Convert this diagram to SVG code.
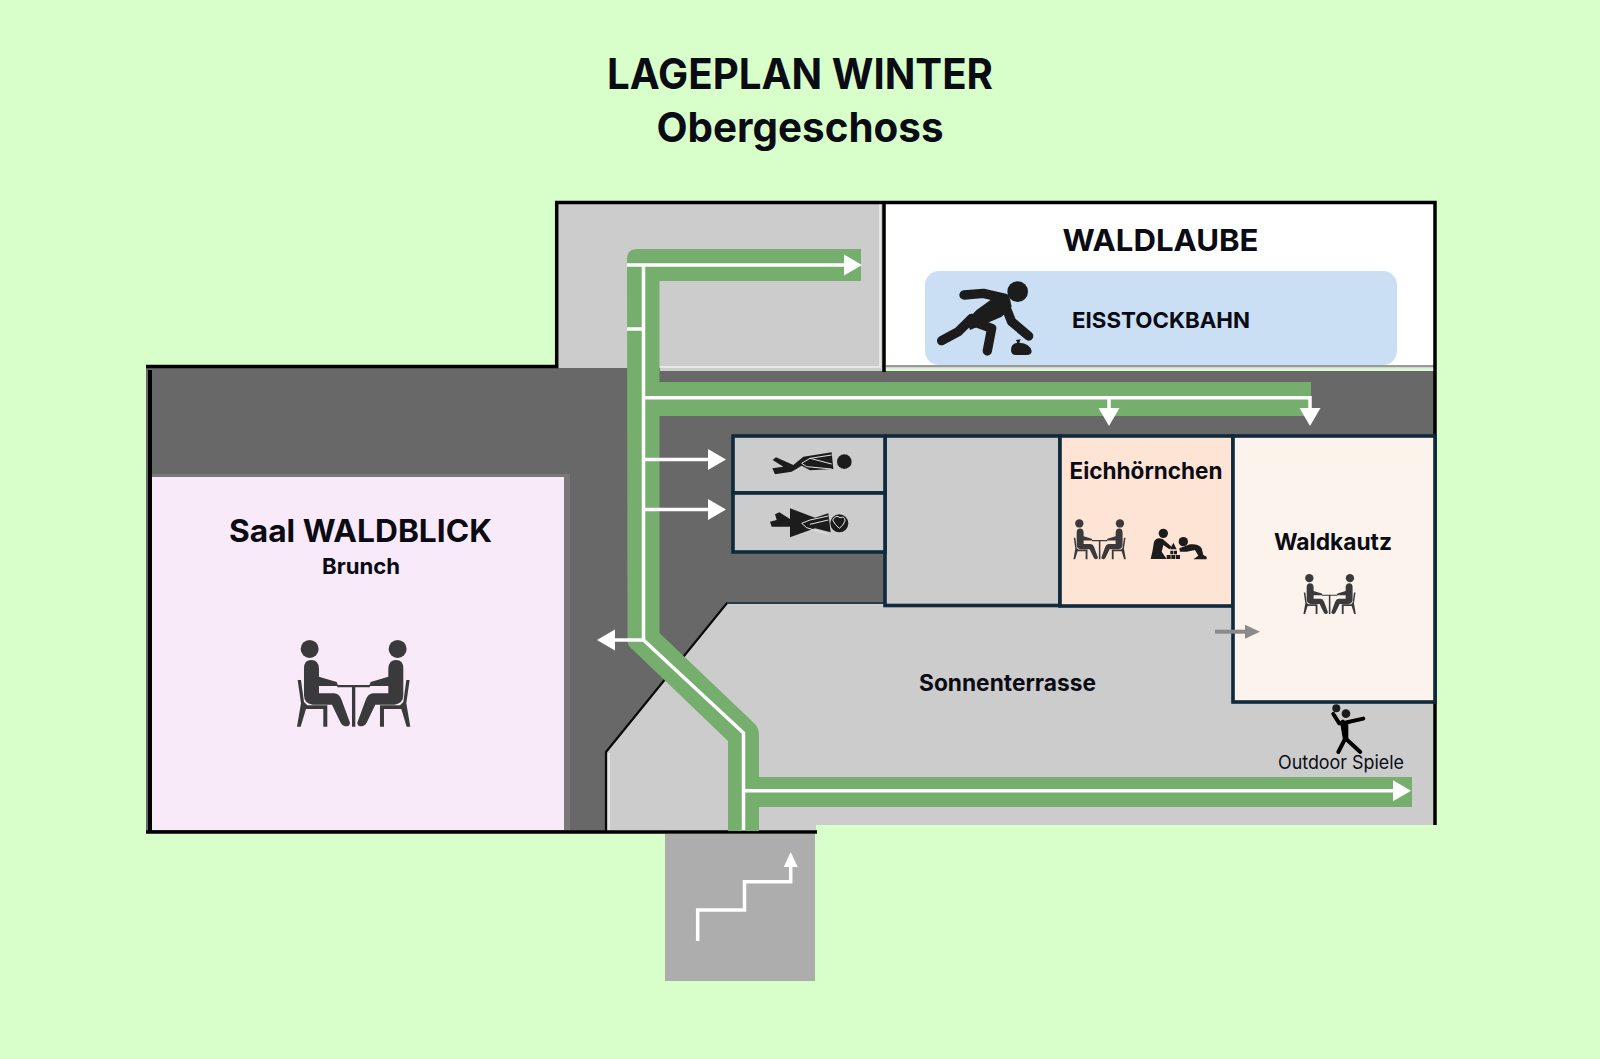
<svg xmlns="http://www.w3.org/2000/svg" width="1600" height="1059" viewBox="0 0 1600 1059">
<style>
text{font-family:Inter,"Liberation Sans",sans-serif;font-weight:700;fill:#0b0b14;text-anchor:middle}
.wall{stroke:#000;stroke-width:3.5;fill:none}
.navy{fill:#ccc;stroke:#0e2a3c;stroke-width:3.6}
.wl{stroke:#fff;stroke-width:3.5;fill:none}
.ic{fill:#3a3a3c}
.dk{fill:#1c1c1c}
.ln{fill:none;stroke:#e4e4e4;stroke-width:3.5}
</style>
<defs>
<marker id="ah" markerUnits="userSpaceOnUse" markerWidth="19" markerHeight="22" refX="1" refY="11" orient="auto"><path d="M0 0.5L18 11L0 21.5Z" fill="#fff"/></marker>
<marker id="ahs" markerUnits="userSpaceOnUse" markerWidth="16" markerHeight="16" refX="1" refY="8" orient="auto"><path d="M0 1L15 8L0 15Z" fill="#fff"/></marker>
<marker id="ahg" markerUnits="userSpaceOnUse" markerWidth="16" markerHeight="16" refX="1" refY="8" orient="auto"><path d="M0 1L15 8L0 15Z" fill="#8a8a8a"/></marker>
<g id="sitter">
<circle cx="539" cy="867" r="27"/>
<path d="M522 925Q522 900 544 900Q565 900 567 925L567 950L620 966L625 978L567 978L567 1000L612 1000Q628 1001 635 1020L660 1088Q660 1100 645 1099Q637 1098 632 1088L606 1034L548 1034Q522 1030 522 1005Z"/>
<path d="M503 960H513L522 1026L532 1036H592V1100H580V1047H528L512 1100H501L513 1030Z"/>
</g>
<g id="tablepair">
<use href="#sitter"/>
<use href="#sitter" transform="translate(1342 0) scale(-1 1)"/>
<path d="M622 975H720V982H676V1100H666V982H622Z"/>
</g>
</defs>
<rect width="1600" height="1059" fill="#d8ffc9"/>
<g id="title">
<text x="800" y="89" font-size="42" textLength="386" lengthAdjust="spacingAndGlyphs">LAGEPLAN WINTER</text>
<text x="800" y="142" font-size="41" textLength="287" lengthAdjust="spacingAndGlyphs">Obergeschoss</text>
</g>
<g id="floor">
<rect x="558" y="204" width="326" height="168" fill="#ccc"/>
<path d="M146 368H660V371H1434V445H885V552H885V603H727L606 752V832H146Z" fill="#686868"/>
<path d="M606 752L727 603H885V606H1233V702H1434V825H816V832H606Z" fill="#ccc"/>
<path d="M606 832V752L727 603H760" fill="none" stroke="#0a0a0a" stroke-width="2.2"/>
<path d="M727 603H885" fill="none" stroke="#2a3a44" stroke-width="2"/>
<path d="M609 830V753" stroke="#eee" stroke-width="1.5" fill="none"/>
<path d="M660 367H880V204" stroke="#eee" stroke-width="1.6" fill="none"/>
<rect x="564" y="474" width="6" height="358" fill="#787878"/>
<rect x="150" y="474" width="420" height="3" fill="#787878"/>
</g>
<g id="waldlaube">
<rect x="886" y="204" width="548" height="161" fill="#fff"/>
<rect x="886" y="365" width="548" height="2.5" fill="#999"/>
<rect x="886" y="367.500" width="548" height="1.500" fill="#e4e4e4"/>
<text x="1160.500" y="251" font-size="30.500" textLength="196" lengthAdjust="spacingAndGlyphs">WALDLAUBE</text>
</g>
<g id="eisstockbahn">
<rect x="925" y="271" width="472" height="94" rx="14" fill="#cbdff4"/>
<text x="1161" y="328" font-size="22" textLength="178" lengthAdjust="spacingAndGlyphs">EISSTOCKBAHN</text>
<g transform="translate(930 275) scale(.3333)">
<circle class="dk" cx="263" cy="50" r="31"/>
<path d="M102 60L160 55L225 70M125 130L85 170L35 197M130 140L185 160L172 228M225 90L245 140L296 183" fill="none" stroke="#1c1c1c" stroke-width="28" stroke-linecap="round" stroke-linejoin="round"/>
<path class="dk" d="M205 58L240 72L245 95L215 125L170 145L120 165L110 135L140 105Z"/>
<path class="dk" d="M243 225Q243 205 262 203L258 195L272 193L268 203Q300 205 305 228Q305 240 290 240H258Q243 240 243 225Z"/>
</g>
</g>
<g id="saal-waldblick">
<rect x="152" y="477" width="412" height="353" fill="#f9eafa"/>
<text x="360.500" y="542" font-size="31" textLength="263" lengthAdjust="spacingAndGlyphs">Saal WALDBLICK</text>
<text x="361" y="574" font-size="21.500" textLength="78" lengthAdjust="spacingAndGlyphs">Brunch</text>
<use href="#tablepair" class="ic" transform="translate(130 360) scale(.3333)"/>
</g>
<g id="walls">
<path class="wall" d="M146 366.500H556.700V202.500H1435V825"/>
<path class="wall" d="M884 203V372"/>
<path class="wall" d="M150 370V832" style="stroke-width:4"/>
<path class="wall" d="M146 832H817"/>
</g>
<g id="room-center">
<rect class="navy" x="885" y="436" width="175" height="169.500"/>
</g>
<g id="wc-men">
<rect class="navy" x="733" y="436" width="152" height="57"/>
<g transform="translate(760 445) scale(.3333)">
<circle class="dk" cx="253" cy="50" r="22"/>
<path class="dk" d="M38 45L48 37L100 60L130 35L215 22L220 72L150 76L125 62L95 80L45 88L37 70L70 65Z"/>
<path class="ln" d="M215 30L150 40L125 55L140 65L215 72M150 40L215 57" style="stroke-width:3"/>
</g>
</g>
<g id="wc-women">
<rect class="navy" x="733" y="493" width="152" height="59"/>
<g transform="translate(760 445) scale(.3333)">
<path class="dk" d="M90 190L165 218L205 205L212 262L165 250L90 277V245L35 245L30 230L50 225L45 208L58 202L90 222Z"/>
<circle class="dk" cx="238" cy="235" r="27"/>
<path class="ln" d="M205 213L150 225L125 235L140 248L205 268M150 238L205 225" style="stroke-width:3"/>
<path class="ln" d="M218 225Q228 208 240 218Q255 212 255 228Q250 242 238 250Q225 240 218 225Z" style="stroke-width:3"/>
</g>
</g>
<g id="eichhoernchen">
<rect class="navy" x="1060" y="436" width="173" height="170" style="fill:#fde4d5"/>
<text x="1146" y="479" font-size="22.500" textLength="153" lengthAdjust="spacingAndGlyphs">Eichhörnchen</text>
<use href="#tablepair" class="ic" transform="translate(1073.300 519.300) scale(.154) translate(-500 -840)"/>
<g class="dk" transform="translate(1140 515) scale(.3333)">
<circle cx="70" cy="55" r="14"/>
<circle cx="130" cy="80" r="14"/>
<path d="M42 80Q50 65 68 72L95 95L88 103L70 90L65 110L80 132H32L38 105Z"/>
<path d="M118 100L150 88Q175 85 185 100L190 120L200 125V133H160L175 122L165 105L140 110L120 110Z"/>
<path d="M100 83L110 103H90Z"/>
<path d="M91 107h9v11h-9zM102 107h9v11h-9zM80 120h12v12h-12zM94 120h12v12h-12zM108 120h12v12h-12z"/>
</g>
</g>
<g id="waldkautz">
<rect class="navy" x="1233" y="436" width="202" height="266" style="fill:#fbf3ec"/>
<text x="1333" y="550" font-size="22.500" textLength="118" lengthAdjust="spacingAndGlyphs">Waldkautz</text>
<use href="#tablepair" class="ic" transform="translate(1303.300 574) scale(.154) translate(-500 -840)"/>
</g>
<g id="sonnenterrasse">
<text x="1007.500" y="691" font-size="22.500" textLength="177" lengthAdjust="spacingAndGlyphs">Sonnenterrasse</text>
</g>
<g id="outdoor-spiele">
<g transform="translate(1040 430) scale(.3333)">
<circle class="dk" cx="918" cy="851" r="13"/>
<circle class="dk" cx="889" cy="835" r="12"/>
<path d="M880 852L898 880L908 880L970 866M908 875L916 925L895 966M916 925L961 966" fill="none" stroke="#000" stroke-width="12" stroke-linecap="round" stroke-linejoin="round"/>
<path d="M900 875L925 872L925 935L910 935Z" fill="#000"/>
</g>
<text x="1341" y="769" font-size="18.500" style="font-weight:400" textLength="126" lengthAdjust="spacingAndGlyphs">Outdoor Spiele</text>
</g>
<g id="treppe">
<rect x="665" y="834" width="150" height="147" fill="#adadad"/>
</g>
<g id="connectors">
<path d="M627 281V259Q627 249 637 249H861V281H659.500V382H1311V416H659.500V633L755 724Q759 728 759 736V777H1412V807H759V831H728V741L631 648Q627.500 645 627.500 640Z" fill="#76ae6e"/>
<path class="wl" d="M627 265H845" marker-end="url(#ah)"/>
<path class="wl" d="M643.500 265V640L743.500 733V830"/>
<path class="wl" d="M627 329H643.500"/>
<path class="wl" d="M643.500 397.700H1310V409" marker-end="url(#ah)"/>
<path class="wl" d="M1109 397.700V409" marker-end="url(#ah)"/>
<path class="wl" d="M643.500 459.500H709" marker-end="url(#ah)"/>
<path class="wl" d="M643.500 509.500H709" marker-end="url(#ah)"/>
<path class="wl" d="M643.500 640H614" marker-end="url(#ah)"/>
<path class="wl" d="M743.500 790.700H1394" marker-end="url(#ah)"/>
<path d="M1215 631.700H1246" fill="none" stroke="#8a8a8a" stroke-width="4" marker-end="url(#ahg)"/>
<path d="M697.700 941V910H744.500V881.700H790.700V866" fill="none" stroke="#fff" stroke-width="3.500" marker-end="url(#ahs)"/>
</g>
</svg>
